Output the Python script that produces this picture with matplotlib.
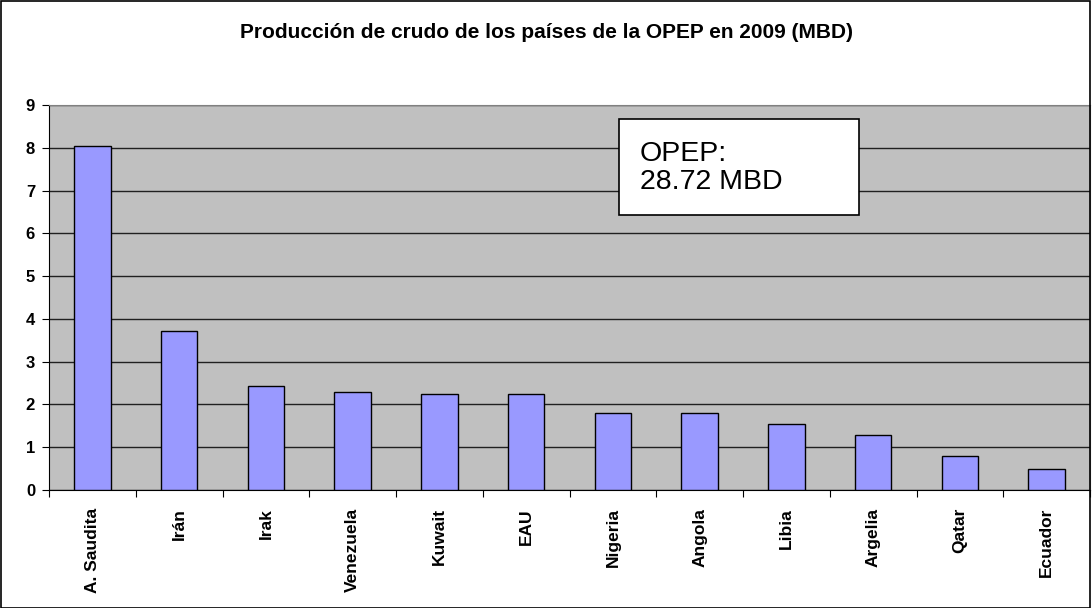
import matplotlib.pyplot as plt
from matplotlib.patches import Rectangle

plt.rcParams['font.family'] = ['Liberation Sans', 'DejaVu Sans']

paises = ["A. Saudita", "Irán", "Irak", "Venezuela", "Kuwait", "EAU",
          "Nigeria", "Angola", "Libia", "Argelia", "Qatar", "Ecuador"]
produccion = [8.03, 3.72, 2.42, 2.30, 2.25, 2.25, 1.81, 1.79, 1.54, 1.28, 0.79, 0.49]
total_opep = "28.72"

fig = plt.figure(figsize=(10.92, 6.08), dpi=100)
ax = fig.add_axes([49 / 1092, 1 - 490 / 608, 1041 / 1092, 385 / 608])

x = range(len(paises))
ax.bar(x, produccion, width=0.42, color="#9999FF", edgecolor="black", linewidth=1.0, zorder=3)

ax.set_facecolor("#C0C0C0")
ax.set_xlim(-0.5, len(paises) - 0.5)
ax.set_ylim(0, 9)
ax.set_yticks(range(10))
ax.yaxis.grid(True, color="#202020", linewidth=1.0, zorder=1)
ax.set_axisbelow(True)

# ticks between categories on x axis
ax.set_xticks([i - 0.5 for i in range(len(paises) + 1)])
ax.set_xticklabels([])
ax.set_xticks(list(x), minor=True)
ax.set_xticklabels(paises, minor=True, rotation=90, fontsize=12.5, fontweight="bold")
ax.tick_params(axis="x", which="minor", length=0, pad=13)
ax.tick_params(axis="x", which="major", length=5, direction="out")
ax.tick_params(axis="y", length=5, direction="out", labelsize=12, pad=5)
for lbl in ax.get_yticklabels():
    lbl.set_fontweight("bold")

for side in ["top", "right"]:
    ax.spines[side].set_color("#808080")
ax.spines["left"].set_color("black")
ax.spines["bottom"].set_color("black")

# OPEP total box
ax.add_patch(Rectangle((619 / 1092, 1 - 215 / 608), 240 / 1092, 96 / 608,
                       transform=fig.transFigure, facecolor="white", edgecolor="black",
                       linewidth=1.2, zorder=5, clip_on=False))
fig.text(640 / 1092, 1 - 168 / 608, "OPEP:\n" + total_opep + " MBD", fontsize=20.5,
         va="center", ha="left", linespacing=1.1, zorder=6)

fig.text(0.5, 1 - 32 / 608, "Producción de crudo de los países de la OPEP en 2009 (MBD)",
         ha="center", va="center", fontsize=15, fontweight="bold")

# outer border
fig.patches.append(Rectangle((0.0005, 0.0008), 0.998, 0.998, transform=fig.transFigure,
                             fill=False, edgecolor="black", linewidth=1.2))

fig.savefig("out.png", dpi=100)
